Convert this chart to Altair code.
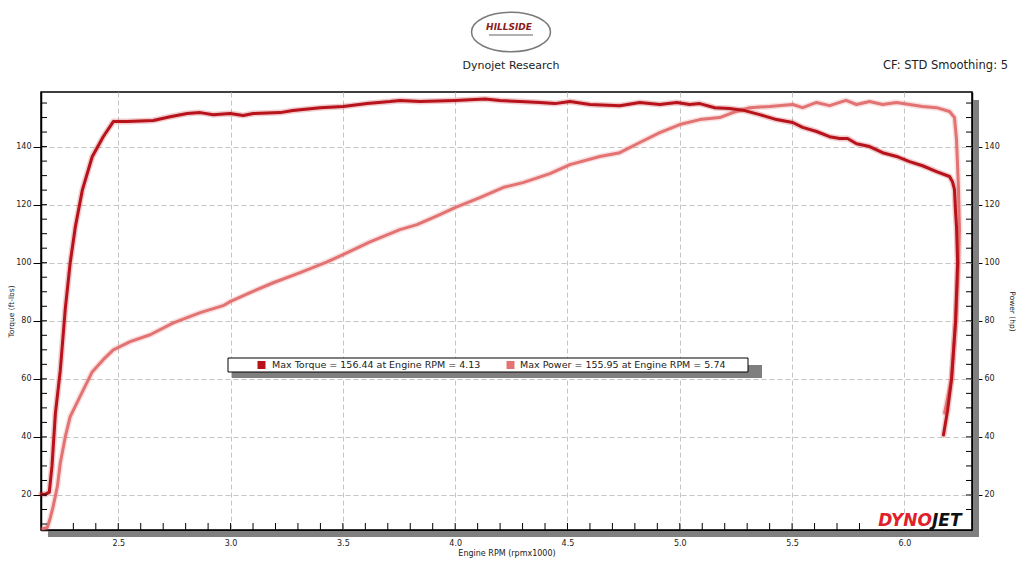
import altair as alt
import pandas as pd

# ---------------- data read from the dyno sheet ----------------
torque_rpm = [2.157, 2.175, 2.193, 2.205, 2.220, 2.242, 2.264, 2.286, 2.309, 2.340,
              2.384, 2.433, 2.478, 2.540, 2.656, 2.731, 2.807, 2.865, 2.923, 2.998,
              3.056, 3.101, 3.221, 3.278, 3.399, 3.501, 3.608, 3.710, 3.754, 3.843,
              3.999, 4.133, 4.199, 4.288, 4.377, 4.444, 4.511, 4.600, 4.733, 4.822,
              4.911, 4.987, 5.044, 5.089, 5.156, 5.222, 5.289, 5.356, 5.431, 5.503,
              5.547, 5.609, 5.667, 5.712, 5.747, 5.787, 5.845, 5.903, 5.965, 6.023,
              6.081, 6.143, 6.201, 6.214, 6.223, 6.228, 6.232, 6.237, 6.228, 6.210,
              6.192, 6.174]
torque_val = [20.3, 20.2, 21.0, 30.0, 48.0, 63.0, 84.0, 100.0, 112.4, 125.0,
              136.5, 143.4, 148.6, 148.6, 149.0, 150.3, 151.4, 151.7, 151.0, 151.4,
              150.7, 151.4, 151.7, 152.4, 153.4, 153.8, 154.8, 155.5, 155.9, 155.5,
              155.9, 156.4, 155.9, 155.5, 155.2, 154.8, 155.5, 154.5, 154.1, 155.2,
              154.5, 155.2, 154.5, 154.8, 153.4, 153.1, 152.4, 151.0, 149.3, 148.3,
              146.6, 145.2, 143.4, 142.8, 142.8, 141.0, 140.0, 137.9, 136.6, 134.8,
              133.4, 131.4, 129.7, 127.9, 125.2, 117.2, 112.4, 100.0, 80.0, 60.0,
              49.0, 40.7]

power_rpm = [2.165, 2.184, 2.197, 2.210, 2.229, 2.242, 2.264, 2.286, 2.340, 2.384,
             2.433, 2.478, 2.553, 2.642, 2.745, 2.865, 2.967, 2.998, 3.087, 3.190,
             3.310, 3.430, 3.501, 3.621, 3.754, 3.830, 3.932, 3.999, 4.110, 4.213,
             4.302, 4.422, 4.511, 4.644, 4.733, 4.822, 4.911, 5.000, 5.089, 5.178,
             5.236, 5.311, 5.400, 5.503, 5.547, 5.609, 5.667, 5.740, 5.787, 5.845,
             5.903, 5.965, 6.023, 6.081, 6.143, 6.201, 6.223, 6.232, 6.237, 6.241,
             6.245, 6.241, 6.228, 6.210, 6.179]
power_val = [8.4, 8.8, 12.0, 16.0, 23.0, 31.0, 40.0, 47.0, 55.5, 62.4,
             66.6, 70.0, 72.8, 75.2, 79.3, 82.8, 85.2, 86.6, 89.7, 93.1,
             96.6, 100.3, 102.8, 107.2, 111.4, 113.1, 116.6, 119.0, 122.4, 125.9,
             127.6, 130.7, 133.8, 136.6, 137.9, 141.4, 144.8, 147.6, 149.3, 150.0,
             151.7, 153.4, 153.8, 154.5, 153.4, 155.2, 154.1, 155.9, 154.5, 155.5,
             154.5, 155.2, 154.5, 153.8, 153.4, 152.1, 150.0, 142.4, 133.1, 125.2,
             111.4, 100.0, 80.0, 60.0, 48.3]

series_names = ["Torque", "Power"]
series_colors = ["#b8121b", "#e37272"]
legend_labels = ["Max Torque = 156.44 at Engine RPM = 4.13",
                 "Max Power = 155.95 at Engine RPM = 5.74"]

x_major = [2.5, 3.0, 3.5, 4.0, 4.5, 5.0, 5.5, 6.0]
x_minor = [2.3, 2.4, 2.5, 2.6, 2.7, 2.8, 2.9, 3.0, 3.1, 3.2, 3.3, 3.4, 3.5, 3.6,
           3.7, 3.8, 3.9, 4.0, 4.1, 4.2, 4.3, 4.4, 4.5, 4.6, 4.7, 4.8, 4.9, 5.0,
           5.1, 5.2, 5.3, 5.4, 5.5, 5.6, 5.7, 5.8, 5.9, 6.0, 6.1, 6.2]
y_major = [20, 40, 60, 80, 100, 120, 140]
y_minor = [10, 15, 20, 25, 30, 35, 40, 45, 50, 55, 60, 65, 70, 75, 80, 85, 90,
           95, 100, 105, 110, 115, 120, 125, 130, 135, 140, 145, 150, 155]

title_text = "Dynojet Research"
corner_text = "CF: STD Smoothing: 5"
x_title = "Engine RPM (rpmx1000)"
y_left_title = "Torque (ft-lbs)"
y_right_title = "Power (hp)"

# ---------------- layout ----------------
W, H = 931, 438
XDOM = [2.156, 6.301]
YDOM = [7.94, 158.8]
FONT = "DejaVu Sans"

xs = alt.Scale(domain=XDOM, nice=False, zero=False)
ys = alt.Scale(domain=YDOM, nice=False, zero=False)

rows = []
for name, rr, vv in (("Torque", torque_rpm, torque_val), ("Power", power_rpm, power_val)):
    for i, (r, v) in enumerate(zip(rr, vv)):
        rows.append({"series": name, "rpm": r, "value": v, "idx": i})
df = pd.DataFrame(rows)
one = pd.DataFrame({"k": [0]})

color_scale = alt.Scale(domain=series_names, range=series_colors)


def rect(x, x2, y, y2, fill, stroke=None):
    kw = dict(fill=fill)
    if stroke:
        kw.update(stroke=stroke, strokeWidth=1)
    return alt.Chart(one).mark_rect(**kw).encode(
        x=alt.value(x), x2=alt.value(x2), y=alt.value(y), y2=alt.value(y2))


def text(s, x, y, size, align="left", color="#222", **kw):
    return alt.Chart(one).mark_text(text=s, align=align, baseline="middle",
                                    fontSize=size, font=FONT, color=color, **kw).encode(
        x=alt.value(x), y=alt.value(y))


# shadows of the axes
shadow_bottom = rect(7, 938, 439, 445, "#7f7f7f")
shadow_right = rect(932, 938, 8, 445, "#7f7f7f")

x_axis = alt.Axis(values=x_major, format=".1f", grid=True, gridDash=[5, 3],
                  gridColor="#c4c4c4", ticks=False, tickSize=0, domain=True,
                  domainColor="black", domainWidth=1.5, labelFontSize=8,
                  labelPadding=9, title=x_title, titleFontSize=8,
                  titleFontWeight="normal", titlePadding=2)
y_axis_left = alt.Axis(values=y_major, grid=True, gridDash=[5, 3], gridColor="#c4c4c4",
                       tickSize=8, tickColor="black", domain=True, domainColor="black",
                       domainWidth=1.5, labelFontSize=8, labelPadding=2,
                       title=y_left_title, titleFontSize=7.5, titleFontWeight="normal",
                       titlePadding=0)

base_lines = alt.Chart(df)


def series_layer(name, width, opacity, with_y_axis=False):
    enc_x = alt.X("rpm:Q", scale=xs, axis=x_axis)
    enc_y = alt.Y("value:Q", scale=ys, axis=y_axis_left if with_y_axis else None)
    return base_lines.transform_filter(alt.datum.series == name).mark_line(
        strokeWidth=width, opacity=opacity, strokeJoin="round", strokeCap="round").encode(
        x=enc_x, y=enc_y, order=alt.Order("idx:Q"),
        color=alt.Color("series:N", scale=color_scale, legend=None))


power_glow = series_layer("Power", 6, 0.22)
torque_glow = series_layer("Torque", 6, 0.22)
power_line = series_layer("Power", 3, 1.0, with_y_axis=True)
torque_line = series_layer("Torque", 3, 1.0)

# minor ticks
ymin_df = pd.DataFrame({"v": y_minor})
left_minor = alt.Chart(ymin_df).mark_rule(color="black", strokeWidth=1).encode(
    y=alt.Y("v:Q", scale=ys, axis=None), x=alt.value(0), x2=alt.value(6))
right_minor = alt.Chart(ymin_df).mark_rule(color="black", strokeWidth=1).encode(
    y=alt.Y("v:Q", scale=ys,
            axis=alt.Axis(orient="right", values=y_major, grid=False, tickSize=10,
                          tickColor="black", domain=True, domainColor="black",
                          domainWidth=1.5, labelFontSize=8, labelPadding=2,
                          title=y_right_title, titleFontSize=7.5,
                          titleFontWeight="normal", titlePadding=8)),
    x=alt.value(925), x2=alt.value(931))
xmin_df = pd.DataFrame({"r": x_minor})
bottom_minor = alt.Chart(xmin_df).mark_rule(color="black", strokeWidth=1).encode(
    x=alt.X("r:Q", scale=xs, axis=x_axis), y=alt.value(431), y2=alt.value(438))

# header
logo = alt.Chart(one).mark_point(
    shape="M -1 0 A 1 0.5 0 1 0 1 0 A 1 0.5 0 1 0 -1 0 Z", size=6241,
    filled=True, fill="white", stroke="#7a7a7a", strokeWidth=1.5, opacity=1).encode(
    x=alt.value(470), y=alt.value(-60))
logo_txt = text("HILLSIDE", 468, -65, 9, align="center", color="#8a1b1b",
                fontStyle="italic", fontWeight="bold")
logo_sub = rect(448, 492, -58, -56, "#b0b0b0")
head1 = text(title_text, 470, -26, 11, align="center")
head2 = text(corner_text, 967, -26, 11.5, align="right")

# legend box
leg_shadow = rect(191, 721, 273, 286, "#7f7f7f")
leg_box = rect(187, 707, 266, 280, "white", stroke="black")
sq1 = alt.Chart(one).mark_square(size=64, color=series_colors[0], opacity=1).encode(
    x=alt.value(220.5), y=alt.value(273))
sq2 = alt.Chart(one).mark_square(size=64, color=series_colors[1], opacity=1).encode(
    x=alt.value(469.5), y=alt.value(273))
lt1 = text(legend_labels[0], 231, 273, 9.5)
lt2 = text(legend_labels[1], 479, 273, 9.5)

# DYNOJET badge
badge_bg = rect(834, 930, 421, 437, "white")
dyno = text("DYNO", 891, 429, 17, align="right", color="#e0202a",
            fontStyle="italic", fontWeight="bold")
jet = text("JET", 891, 429, 17, align="left", color="#111",
           fontStyle="italic", fontWeight="bold")

chart = alt.layer(
    shadow_bottom, shadow_right,
    power_glow, torque_glow, power_line, torque_line,
    left_minor, right_minor, bottom_minor,
    badge_bg, dyno, jet,
    logo, logo_sub, logo_txt, head1, head2,
    leg_shadow, leg_box, sq1, sq2, lt1, lt2,
).resolve_axis(y="independent").properties(
    width=W, height=H,
    padding={"left": 33, "top": 84, "right": 44, "bottom": 38},
    autosize=alt.AutoSizeParams(type="none"),
).configure_view(stroke="black", strokeWidth=1.5).configure_axis(
    labelFont=FONT, titleFont=FONT, labelColor="#222", titleColor="#222")

chart.save("out.html", embed_options={"renderer": "svg", "actions": False})
